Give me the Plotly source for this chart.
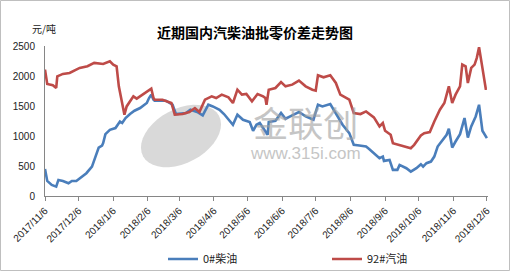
import plotly.graph_objects as go
import math

# ---- data ----
red_dates = ["2017-11-06","2017-11-08","2017-11-13","2017-11-16","2017-11-17","2017-11-22","2017-11-28",
             "2017-12-07","2017-12-14","2017-12-20","2017-12-28","2018-01-03","2018-01-06","2018-01-09",
             "2018-01-11","2018-01-13","2018-01-16","2018-01-18","2018-01-24","2018-01-27","2018-02-02",
             "2018-02-09","2018-02-11","2018-02-12","2018-02-19","2018-02-27","2018-03-02","2018-03-09",
             "2018-03-15","2018-03-20","2018-03-24","2018-03-29","2018-04-04","2018-04-08","2018-04-13",
             "2018-04-19","2018-04-23","2018-04-27","2018-05-01","2018-05-05","2018-05-10","2018-05-15",
             "2018-05-20","2018-05-22","2018-05-23","2018-05-25","2018-05-31","2018-06-05","2018-06-09",
             "2018-06-15","2018-06-21","2018-06-27","2018-07-03","2018-07-06","2018-07-08","2018-07-13",
             "2018-07-19","2018-07-24","2018-07-28","2018-08-02","2018-08-05","2018-08-09","2018-08-15",
             "2018-08-20","2018-08-23","2018-08-27","2018-09-01","2018-09-04","2018-09-06","2018-09-11",
             "2018-09-13","2018-09-20","2018-09-29","2018-10-02","2018-10-08","2018-10-11","2018-10-16",
             "2018-10-20","2018-10-25","2018-10-29","2018-11-02","2018-11-05","2018-11-08","2018-11-12",
             "2018-11-14","2018-11-17","2018-11-19","2018-11-22","2018-11-25","2018-11-27","2018-11-29",
             "2018-12-02","2018-12-05","2018-12-06"]
gasoline_92 = [2107,1868,1845,1800,1995,2035,2050,
               2135,2162,2218,2200,2245,2190,2162,
               1828,1660,1355,1493,1660,1622,1700,
               1790,1633,1605,1605,1550,1355,1366,
               1400,1466,1400,1605,1660,1633,1689,
               1644,1550,1772,1689,1700,1577,1700,
               1660,1633,1521,1772,1800,1900,1828,
               1856,1923,1828,1772,1756,2011,1978,
               2011,1884,1689,1633,1605,1383,1366,
               1410,1370,1310,1159,1216,1087,1020,
               881,841,797,853,1008,1048,1065,
               1242,1438,1550,1828,1550,1689,1828,
               2190,2162,1884,2135,2190,2302,2480,
               2135,1790,1790]

blue_dates = ["2017-11-06","2017-11-08","2017-11-12","2017-11-16","2017-11-18","2017-11-22","2017-11-27",
              "2017-11-30","2017-12-04","2017-12-09","2017-12-13","2017-12-18","2017-12-21","2017-12-24",
              "2017-12-27","2017-12-28","2017-12-30","2018-01-03","2018-01-08","2018-01-12","2018-01-14",
              "2018-01-17","2018-01-21","2018-01-25","2018-01-30","2018-02-05","2018-02-07","2018-02-09",
              "2018-02-11","2018-02-12","2018-02-22","2018-02-28","2018-03-03","2018-03-12","2018-03-16",
              "2018-03-22","2018-03-27","2018-04-01","2018-04-05","2018-04-11","2018-04-15","2018-04-20",
              "2018-04-23","2018-04-27","2018-05-02","2018-05-08","2018-05-11","2018-05-14","2018-05-17",
              "2018-05-20","2018-05-22","2018-05-24","2018-05-25","2018-05-31","2018-06-05","2018-06-09",
              "2018-06-15","2018-06-21","2018-06-27","2018-07-04","2018-07-08","2018-07-12","2018-07-19",
              "2018-07-24","2018-07-30","2018-08-05","2018-08-09","2018-08-14","2018-08-20","2018-08-23",
              "2018-08-27","2018-09-01","2018-09-04","2018-09-05","2018-09-10","2018-09-13","2018-09-17",
              "2018-09-19","2018-09-25","2018-09-29","2018-10-04","2018-10-08","2018-10-10","2018-10-13",
              "2018-10-17","2018-10-20","2018-10-23","2018-10-28","2018-10-31","2018-11-02","2018-11-05",
              "2018-11-08","2018-11-12","2018-11-16","2018-11-19","2018-11-22","2018-11-26","2018-11-29",
              "2018-12-02","2018-12-06"]
diesel_0 = [451,251,184,156,268,251,212,
            251,251,323,380,490,657,808,
            841,881,1031,1103,1132,1242,1216,
            1299,1366,1421,1466,1550,1633,1689,
            1605,1588,1588,1521,1366,1383,1438,
            1400,1343,1521,1493,1438,1366,1242,
            1187,1355,1271,1232,1087,1187,1216,
            1132,1075,1020,1232,1254,1383,1287,
            1343,1400,1326,1271,1521,1493,1533,
            1383,1187,1048,853,841,824,780,
            714,630,657,585,602,435,435,
            518,463,406,463,530,490,547,
            574,657,824,936,1020,1120,808,
            908,1031,1299,975,1159,1326,1521,
            1087,965]

tick_dates = ["2017-11-06","2017-12-06","2018-01-06","2018-02-06","2018-03-06","2018-04-06","2018-05-06",
              "2018-06-06","2018-07-06","2018-08-06","2018-09-06","2018-10-06","2018-11-06","2018-12-06"]
tick_labels = ["2017/11/6","2017/12/6","2018/1/6","2018/2/6","2018/3/6","2018/4/6","2018/5/6",
               "2018/6/6","2018/7/6","2018/8/6","2018/9/6","2018/10/6","2018/11/6","2018/12/6"]
y_ticks = [0, 500, 1000, 1500, 2000, 2500]

# ---- figure ----
W, H = 511, 272
L, R, T, B = 45, 23, 46, 76
pw, ph = W - L - R, H - T - B
def px(x): return (x - L) / pw
def py(y): return (H - B - y) / ph

FONT = "Liberation Sans, Arial, Noto Sans CJK SC, sans-serif"

fig = go.Figure()
fig.add_trace(go.Scatter(x=blue_dates, y=diesel_0, mode="lines", name="0#柴油",
                         line=dict(color="#4A7EBB", width=2.6)))
fig.add_trace(go.Scatter(x=red_dates, y=gasoline_92, mode="lines", name="92#汽油",
                         line=dict(color="#BE4B48", width=2.6)))

# watermark logo (ellipse) below traces
pts = []
cx, cy, a, b, ang = 181, 136, 43, 27, math.radians(-28)
for i in range(41):
    t = 2 * math.pi * i / 40
    xx = cx + a * math.cos(t) * math.cos(ang) - b * math.sin(t) * math.sin(ang)
    yy = cy + a * math.cos(t) * math.sin(ang) + b * math.sin(t) * math.cos(ang)
    pts.append((px(xx), py(yy)))
path = "M " + " L ".join(f"{p[0]:.4f},{p[1]:.4f}" for p in pts) + " Z"
fig.add_shape(type="path", path=path, xref="paper", yref="paper", layer="below",
              fillcolor="#D9D9D9", line=dict(width=0))

# chart border
fig.add_shape(type="rect", xref="paper", yref="paper",
              x0=px(0.5), x1=px(W - 1.5), y0=py(H - 1.5), y1=py(0.5),
              line=dict(color="#BFBFBF", width=1), layer="below")

# watermark text (one block, two lines)
fig.add_annotation(text="<span style='font-size:35px'>金联创</span><br>www.315i.com",
                   xref="paper", yref="paper", x=px(305), y=py(134), align="center",
                   showarrow=False, font=dict(family=FONT, size=17, color="#A0A0A0"),
                   opacity=0.6)

fig.add_annotation(text="<b>近期国内汽柴油批零价差走势图</b>", xref="paper", yref="paper",
                   x=px(255), y=py(20), showarrow=False,
                   font=dict(family="Noto Sans CJK SC", size=14, color="#000000"))
fig.add_annotation(text="元/吨", xref="paper", yref="paper", x=px(30), y=py(19),
                   showarrow=False, font=dict(family="Noto Sans CJK SC", size=10, color="#222222"))

fig.update_layout(
    width=W, height=H,
    margin=dict(l=L, r=R, t=T, b=B, autoexpand=False),
    paper_bgcolor="white", plot_bgcolor="white",
    showlegend=True,
    legend=dict(orientation="h", x=px(163), xanchor="left", y=py(259), yanchor="middle",
                font=dict(family="Noto Sans CJK SC", size=11, color="#222222"),
                entrywidth=119, entrywidthmode="pixels",
                itemwidth=30, tracegroupgap=0, bgcolor="rgba(0,0,0,0)"),
    font=dict(family=FONT, size=10, color="#222222"),
)
fig.update_xaxes(type="date", range=["2017-11-06", "2018-12-07"],
                 tickmode="array", tickvals=tick_dates, ticktext=tick_labels,
                 tickangle=-45, ticks="outside", ticklen=4, tickcolor="#868686",
                 showline=True, linecolor="#868686", linewidth=1,
                 showgrid=False, zeroline=False, tickfont=dict(size=10))
fig.update_yaxes(range=[0, 2500], tickmode="array", tickvals=y_ticks,
                 showline=True, linecolor="#868686", linewidth=1, ticks="",
                 showgrid=False, zeroline=False, tickfont=dict(size=10), ticklabelstandoff=7)

fig.write_html("out.html")
